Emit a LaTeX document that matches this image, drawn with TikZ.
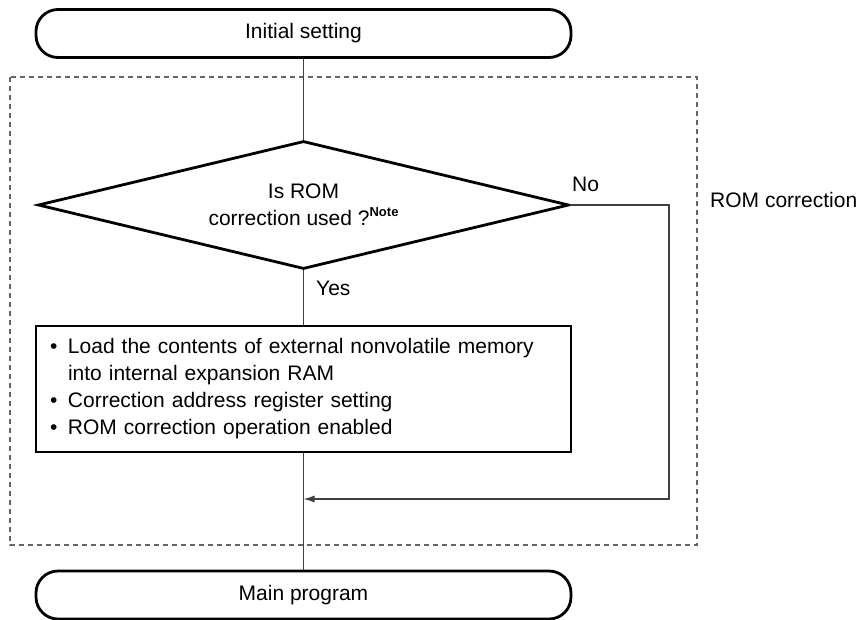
\documentclass[tikz,border=0pt]{standalone}
\usepackage{fontspec}
\setmainfont{Liberation Sans}
\usetikzlibrary{shapes.geometric,arrows.meta,calc}
\begin{document}
\begin{tikzpicture}[x=1pt,y=-1pt,
  font=\fontsize{21}{27}\selectfont,
  term/.style={draw, line width=2.8pt, rounded corners=22pt, minimum width=535pt, minimum height=48pt, inner sep=0pt},
  decide/.style={draw, diamond, line width=2.8pt, minimum width=531pt, minimum height=128pt, aspect=4.15, inner sep=0pt, align=center},
  procbox/.style={draw, line width=2.8pt, minimum width=535pt, minimum height=126pt, inner xsep=14pt, text width=507pt, align=left},
  conn/.style={draw=black!75, line width=1.2pt},
  grp/.style={draw=black!60, line width=1.3pt, dash pattern=on 5pt off 4pt},
  lbl/.style={inner sep=0pt, anchor=base west}
]
\useasboundingbox (0,0) rectangle (859,619);
% group frame
\draw[grp] (10,77) rectangle (697,545);
% nodes
\node[term] (s) at (303.5,33.5) {Initial setting};
\node[decide] (d) at (303.5,205) {Is ROM\\correction used ?\raisebox{9pt}{\fontsize{13}{13}\selectfont\bfseries Note}};
\node[procbox] (p) at (303.5,389) {\makebox[18pt][l]{\textbullet}Load the contents of external nonvolatile memory\\
\hspace*{18pt}into internal expansion RAM\\
\makebox[18pt][l]{\textbullet}Correction address register setting\\
\makebox[18pt][l]{\textbullet}ROM correction operation enabled};
\node[term] (e) at (303.5,595) {Main program};
\coordinate (m) at (303.5,499);
\coordinate (r1) at (669,205);
\coordinate (r2) at (669,499);
% connectors
\draw[conn] (s.south) -- (d.north);
\draw[conn] (d.south) -- (p.north);
\draw[conn] (p.south) -- (e.north);
\draw[conn, -{Latex[length=11pt,width=7pt]}] (d.east) -- (r1) -- (r2) -- (m);
% labels
\node[lbl] (yes) at (316,295) {Yes};
\node[lbl] (no) at (572,191) {No};
\node[lbl] (rc) at (710,207) {ROM correction};
\end{tikzpicture}
\end{document}
